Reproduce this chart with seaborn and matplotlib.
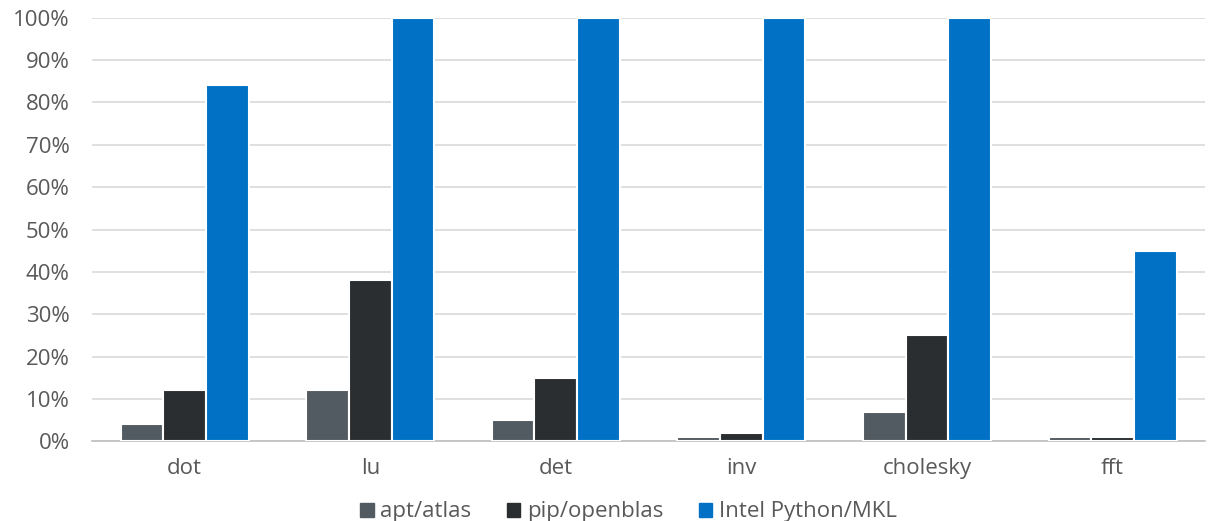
import matplotlib
matplotlib.use("Agg")
import matplotlib.pyplot as plt
import matplotlib.ticker as mticker
import seaborn as sns
import pandas as pd

# Relative performance of linear algebra / FFT routines
categories = ["dot", "lu", "det", "inv", "cholesky", "fft"]
series = ["apt/atlas", "pip/openblas", "Intel Python/MKL"]
apt_atlas = [4, 12, 5, 1, 7, 1]
pip_openblas = [12, 38, 15, 2, 25, 1]
intel_mkl = [84, 100, 100, 100, 100, 45]
colors = ["#535b62", "#2b2e31", "#0071c5"]

rows = []
for name, vals in zip(series, [apt_atlas, pip_openblas, intel_mkl]):
    for cat, v in zip(categories, vals):
        rows.append({"benchmark": cat, "library": name, "value": v})
df = pd.DataFrame(rows)

sns.set_theme(style="white")
plt.rcParams["font.family"] = ["Open Sans", "DejaVu Sans"]

fig, ax = plt.subplots(figsize=(12.09, 5.21), dpi=100)
fig.subplots_adjust(left=0.076, right=0.997, top=0.966, bottom=0.153)

sns.barplot(data=df, x="benchmark", y="value", hue="library",
            palette=colors, width=0.69, edgecolor="white", linewidth=1.5,
            saturation=1, ax=ax, legend=False, zorder=3)

ax.set_ylim(0, 100)
ax.set_xlim(-0.5, len(categories) - 0.5)
ax.yaxis.set_major_locator(mticker.MultipleLocator(10))
ax.yaxis.set_major_formatter(mticker.FuncFormatter(lambda v, p: f"{v:.0f}%"))
ax.grid(axis="y", color="#d9d9d9", linewidth=1.2, zorder=0)
ax.set_axisbelow(True)
for side in ["top", "right", "left"]:
    ax.spines[side].set_visible(False)
ax.spines["bottom"].set_color("#bfbfbf")
ax.spines["bottom"].set_linewidth(1.2)
ax.set_xlabel("")
ax.set_ylabel("")
ax.tick_params(axis="y", labelsize=16, labelcolor="#595959", length=0, pad=16)
ax.tick_params(axis="x", labelsize=16, labelcolor="#595959", length=0, pad=12)

handles = [plt.Rectangle((0, 0), 1, 1, color=c) for c in colors]
fig.legend(handles, series, loc="lower center", ncol=3, frameon=False,
           bbox_to_anchor=(0.52, -0.024), fontsize=16, handlelength=0.6,
           handleheight=0.6, handletextpad=0.3, columnspacing=1.6,
           borderpad=0.0, labelcolor="#595959")

fig.savefig("out.png", dpi=100)
